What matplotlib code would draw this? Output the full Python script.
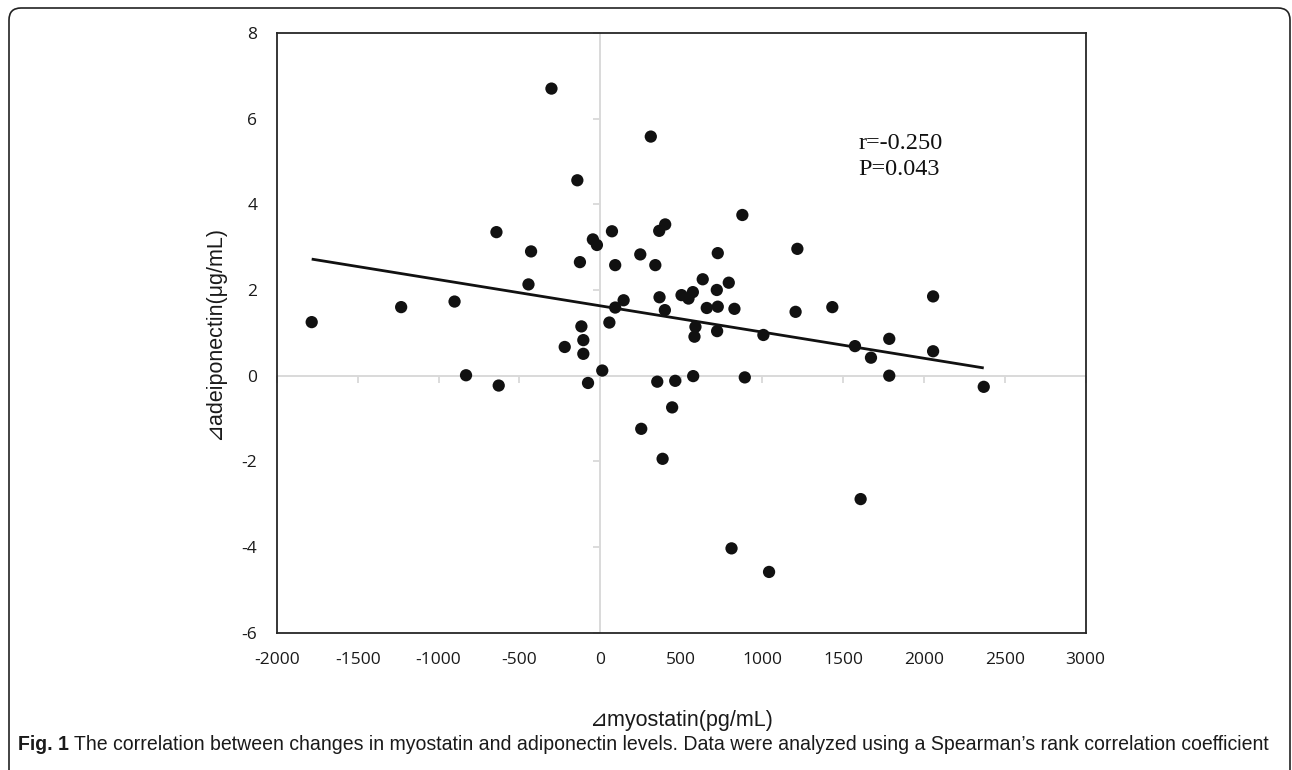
import numpy as np
import matplotlib
matplotlib.use('Agg')
import matplotlib.pyplot as plt
from matplotlib.patches import FancyBboxPatch
from matplotlib.transforms import IdentityTransform
from matplotlib.lines import TICKDOWN, TICKLEFT

# change in myostatin (pg/mL) vs change in adiponectin (ug/mL)
d_myostatin = [-1784, -1231, -901, -642, -428, -444, -142, -302, -126, -46,
               -21, 72, -117, -105, -220, -105, 56, -830, -628, -76,
               12, 312, 92, 247, 340, 364, 401, 878, 1218, 726,
               144, 92, 366, 399, 502, 545, 572, 633, 794, 720,
               658, 726, 829, 588, 582, 722, 1008, 1207, 1434, 1574,
               1673, 1786, 1786, 352, 463, 574, 893, 444, 253, 385,
               1609, 811, 1043, 2057, 2057, 2370]
d_adiponectin = [1.25, 1.60, 1.73, 3.35, 2.90, 2.13, 4.56, 6.70, 2.65, 3.18,
                 3.05, 3.37, 1.15, 0.83, 0.67, 0.51, 1.24, 0.01, -0.23, -0.17,
                 0.12, 5.58, 2.58, 2.83, 2.58, 3.38, 3.53, 3.75, 2.96, 2.86,
                 1.76, 1.59, 1.83, 1.53, 1.88, 1.80, 1.95, 2.25, 2.17, 2.00,
                 1.58, 1.61, 1.56, 1.14, 0.91, 1.04, 0.95, 1.49, 1.60, 0.69,
                 0.42, 0.86, 0.00, -0.14, -0.12, -0.01, -0.04, -0.74, -1.24, -1.94,
                 -2.88, -4.03, -4.58, 1.85, 0.57, -0.26]

x_ticks = np.arange(-2000, 3001, 500)
y_ticks = np.arange(-6, 9, 2)

stats_text = 'r=-0.250\nP=0.043'
x_label = '\u22bfmyostatin(pg/mL)'
y_label = '\u22bfadeiponectin(\u03bcg/mL)'
caption_bold = 'Fig. 1'
caption = ('The correlation between changes in myostatin and adiponectin levels. '
           'Data were analyzed using a Spearman\u2019s rank correlation coefficient')

plt.rcParams['axes.unicode_minus'] = False
label_font = ['Liberation Sans', 'DejaVu Sans']

fig = plt.figure(figsize=(12.92, 7.7), dpi=100)
ax = fig.add_axes([0.2142, 0.1782, 0.6261, 0.7791])

x = np.array(d_myostatin, dtype=float)
y = np.array(d_adiponectin, dtype=float)

# gray axes crossing at zero, with their own tick marks
ax.axhline(0, color='#d9d9d9', lw=1.4, zorder=1)
ax.axvline(0, color='#d9d9d9', lw=1.4, zorder=1)
ax.plot(x_ticks, np.zeros(len(x_ticks)), ls='none', marker=TICKDOWN,
        ms=5, mew=1.3, color='#d9d9d9', zorder=1, clip_on=False)
ax.plot(np.zeros(len(y_ticks)), y_ticks, ls='none', marker=TICKLEFT,
        ms=5, mew=1.3, color='#d9d9d9', zorder=1, clip_on=False)

ax.scatter(x, y, s=78, color='#111111', edgecolors='none', zorder=3)

# linear trendline
slope, icpt = np.polyfit(x, y, 1)
xl = np.array([x.min(), x.max()])
ax.plot(xl, slope * xl + icpt, color='#111111', lw=2.0, zorder=4,
        solid_capstyle='butt')

ax.set_xlim(-2000, 3000)
ax.set_ylim(-6, 8)
ax.set_xticks(x_ticks)
ax.set_yticks(y_ticks)
ax.tick_params(length=0, labelsize=12.5, colors='#1a1a1a')
ax.tick_params(axis='x', pad=14)
ax.tick_params(axis='y', pad=14)
for lab in ax.get_xticklabels() + ax.get_yticklabels():
    lab.set_family('Open Sans')
for sp in ax.spines.values():
    sp.set_color('#262626')
    sp.set_linewidth(1.3)

ax.text(1594, 5.12, stats_text, family='Liberation Serif', fontsize=17.5,
        va='center', ha='left', linespacing=1.3, color='#111111')

ax.set_xlabel(x_label, family=label_font, fontsize=15.5, labelpad=30, color='#1a1a1a')
ax.set_ylabel(y_label, family=label_font, fontsize=15.5, labelpad=12, color='#1a1a1a')

# caption below the chart, sized to run from x=18 to about x=1275 px
cap_y = 1 - 744 / 770
cap_size = 13.0
cap = fig.text(18 / 1292, cap_y, caption_bold + ' ', family=label_font,
               fontsize=cap_size, fontweight='bold', va='center', ha='left', color='#1a1a1a')
body = fig.text(0, cap_y, caption, family=label_font,
                fontsize=cap_size, va='center', ha='left', color='#1a1a1a')
fig.canvas.draw()
r = fig.canvas.get_renderer()
w = cap.get_window_extent(r).width + body.get_window_extent(r).width
cap_size = cap_size * (1266 - 18) / w
cap.set_fontsize(cap_size)
body.set_fontsize(cap_size)
fig.canvas.draw()
body.set_x(cap.get_window_extent(r).x1 / 1292)

# rounded frame around the whole figure
frame = FancyBboxPatch((9, -20), 1281, 770 - 8 + 20,
                       boxstyle='round,pad=0,rounding_size=12',
                       transform=IdentityTransform(), fill=False,
                       ec='#222222', lw=1.2)
fig.patches.append(frame)

fig.savefig('out.png', dpi=100)
